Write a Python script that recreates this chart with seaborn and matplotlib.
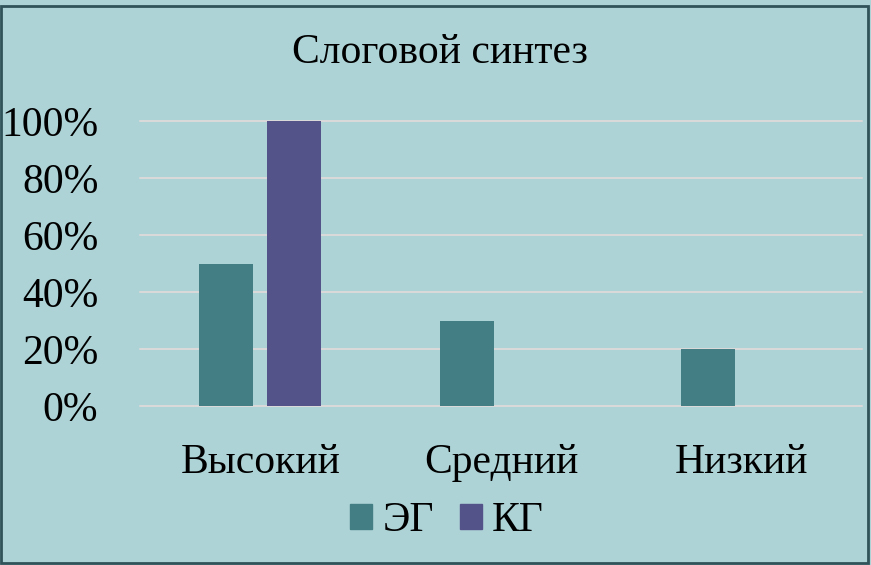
import pandas as pd
import matplotlib.pyplot as plt
import seaborn as sns
from matplotlib.patches import Rectangle
from matplotlib.ticker import PercentFormatter

# данные диаграммы
levels = ['Высокий', 'Средний', 'Низкий']
eg_values = [0.5, 0.3, 0.2]
kg_values = [1.0, 0.0, 0.0]
groups = ['ЭГ', 'КГ']
title = 'Слоговой синтез'

BG = '#ADD3D6'
COLORS = {'ЭГ': '#427E84', 'КГ': '#545389'}
GRID = '#D9D9D9'

df = pd.DataFrame({
    'level': levels * 2,
    'value': eg_values + kg_values,
    'group': [groups[0]] * len(levels) + [groups[1]] * len(levels),
})

sns.set_style('white')
plt.rcParams['font.family'] = ['Liberation Serif', 'DejaVu Serif']
plt.rcParams['text.color'] = 'black'
plt.rcParams['xtick.color'] = 'black'
plt.rcParams['ytick.color'] = 'black'
FS = 30

fig = plt.figure(figsize=(8.71, 5.65), dpi=100, facecolor=BG)
ax = fig.add_axes([140 / 871, 1 - 406 / 565, 722 / 871, 285 / 565])
ax.set_facecolor(BG)

sns.barplot(data=df, x='level', y='value', hue='group', palette=COLORS,
            width=0.565, gap=0.207, ax=ax, legend=False, saturation=1,
            linewidth=0, edgecolor='none')

ax.set_ylim(0, 1)
ax.set_yticks([0, 0.2, 0.4, 0.6, 0.8, 1.0])
ax.yaxis.set_major_formatter(PercentFormatter(1.0, decimals=0))
ax.grid(axis='y', color=GRID, linewidth=1.5)
ax.set_axisbelow(True)
for g in ax.get_ygridlines():
    g.set_clip_on(False)
for s in ax.spines.values():
    s.set_visible(False)
ax.set_xlabel('')
ax.set_ylabel('')
ax.tick_params(axis='y', length=0, pad=30, labelsize=FS, labelcolor='black')
ax.tick_params(axis='x', length=0, pad=27, labelsize=FS, labelcolor='black')

fig.text(440 / 871, 1 - 53 / 565, title, ha='center', va='center', fontsize=FS,
         color='black')

handles = [Rectangle((0, 0), 1, 1, color=COLORS[g]) for g in groups]
leg = fig.legend(handles, groups, loc='center', bbox_to_anchor=(447 / 871, 1 - 521 / 565),
                 ncol=2, frameon=False, fontsize=FS, handlelength=0.53, handleheight=0.53,
                 handletextpad=0.24, columnspacing=0.62)
for t in leg.get_texts():
    t.set_color('black')

# рамка
fig.patches.append(Rectangle((1 / 871, 2 / 565), 867 / 871, 557 / 565,
                             transform=fig.transFigure, fill=False,
                             edgecolor='#30535A', linewidth=2))

fig.savefig('out.png', dpi=100, facecolor=BG)
